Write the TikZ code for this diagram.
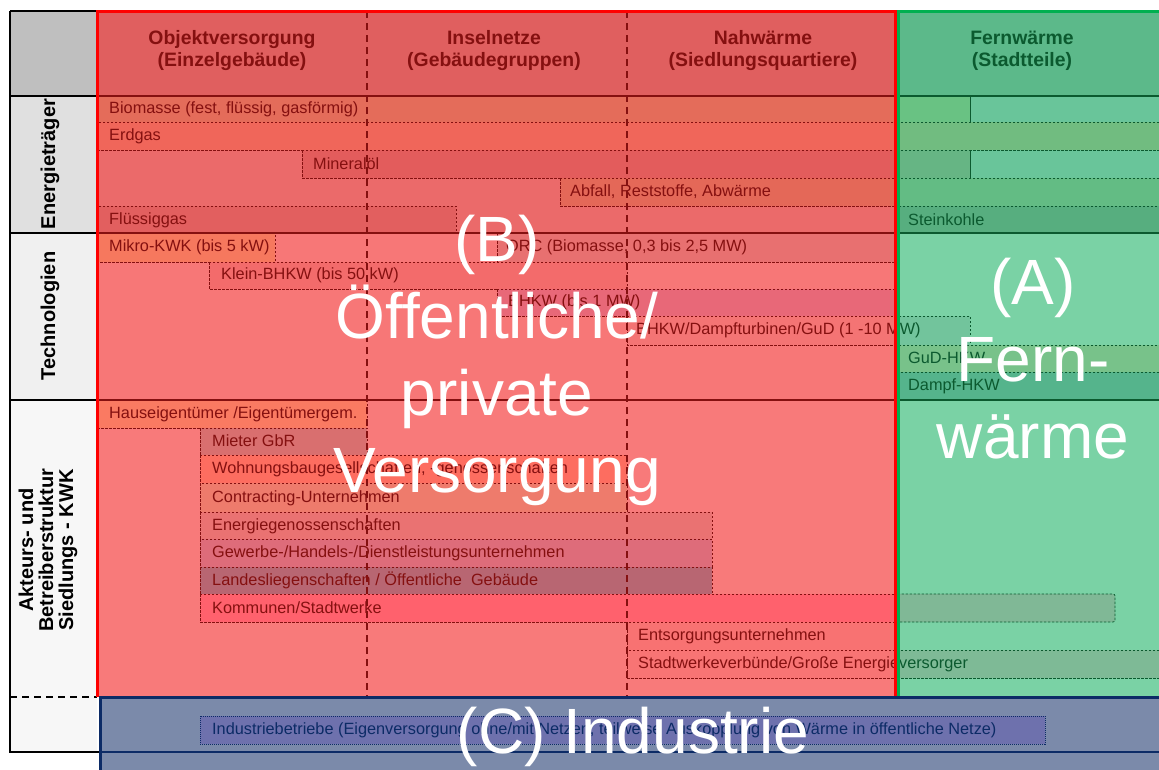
\documentclass[tikz,border=0pt]{standalone}
\usepackage{fontspec}
\setmainfont{Liberation Sans}
\definecolor{kopfrot}{HTML}{E05F5F}
\definecolor{bandrotA}{HTML}{EB6A6A}
\definecolor{bandrotB}{HTML}{F77777}
\definecolor{bandrotC}{HTML}{F87A7A}
\definecolor{kopfgruen}{HTML}{5CB98A}
\definecolor{bandgruenA}{HTML}{69C59A}
\definecolor{bandgruenB}{HTML}{7AD2A5}
\definecolor{dunkelrot}{HTML}{851010}
\definecolor{dunkelgruen}{HTML}{0B5A2F}
\definecolor{rahmengruen}{HTML}{00B050}
\definecolor{navy}{HTML}{0C2B66}
\definecolor{blaugrau}{HTML}{7B8AAA}
\definecolor{industrie}{HTML}{6E71AD}
\tikzset{
	balken/.style={draw=dunkelrot,dash pattern=on 2.5pt off 1.5pt,line width=0.7pt},
	balkengr/.style={draw=dunkelgruen,dash pattern=on 2.5pt off 1.5pt,line width=0.7pt},
	eintrag/.style={anchor=west,inner sep=0pt,text=dunkelrot,font=\fontsize{16.3}{18}\selectfont},
	eintraggr/.style={eintrag,text=dunkelgruen},
	kopf/.style={align=center,inner sep=0pt,font=\bfseries\fontsize{19.4}{22}\selectfont},
	seite/.style={rotate=90,align=center,inner sep=0pt,font=\bfseries\fontsize{20}{20}\selectfont},
	gross/.style={align=center,inner sep=0pt,text=white,font=\fontsize{64}{77}\selectfont}
}
\begin{document}
\begin{tikzpicture}[x=1pt,y=-1pt]
	\useasboundingbox (0,0) rectangle (1159,769);
	\fill[white] (0,0) rectangle (1159,769);
	\fill[black!25] (10,11) rectangle (97,96);
	\fill[black!12] (10,96) rectangle (97,233);
	\fill[black!6] (10,233) rectangle (97,400);
	\fill[black!3] (10,400) rectangle (97,752);
	\draw[line width=2pt] (10,11) -- (97,11) (10,11) -- (10,752) -- (99,752) (10,96) -- (97,96) (10,233) -- (97,233) (10,400) -- (97,400);
	\draw[line width=1.5pt,dash pattern=on 7pt off 5pt] (10,697) -- (97,697);
	\node[seite] (seiteA) at (50,164) {Energieträger};
	\node[seite] (seiteB) at (50,316) {Technologien};
	\node[seite] (seiteC) at (48,550) {Akteurs- und\\Betreiberstruktur\\Siedlungs - KWK};
	\fill[kopfrot] (97,11) rectangle (895,96);
	\fill[bandrotA] (97,96) rectangle (895,233);
	\fill[bandrotB] (97,233) rectangle (895,400);
	\fill[bandrotC] (97,400) rectangle (895,697);
	\fill[kopfgruen] (897,11) rectangle (1162,96);
	\fill[bandgruenA] (897,96) rectangle (1162,233);
	\fill[bandgruenB] (897,233) rectangle (1162,697);
	\filldraw[balken,fill={rgb,255:red,228;green,108;blue,90}] (97,96) rectangle (895,122);
	\filldraw[balkengr,fill={rgb,255:red,105;green,194;blue,131}] (897,96) rectangle (970,122);
	\draw[balkengr] (970,96) -- (970,122) -- (1162,122);
	\filldraw[balken,fill={rgb,255:red,240;green,102;blue,90}] (97,122) rectangle (895,150);
	\filldraw[balkengr,fill={rgb,255:red,113;green,188;blue,128}] (897,122) rectangle (1162,150);
	\filldraw[balken,fill={rgb,255:red,227;green,92;blue,92}] (302,150) rectangle (895,178);
	\filldraw[balkengr,fill={rgb,255:red,102;green,181;blue,132}] (897,150) rectangle (970,178);
	\draw[balkengr] (970,150) -- (970,178) -- (1162,178);
	\filldraw[balken,fill={rgb,255:red,228;green,104;blue,88}] (560,178) rectangle (895,206);
	\filldraw[balkengr,fill={rgb,255:red,99;green,188;blue,132}] (897,178) rectangle (1162,206);
	\filldraw[balken,fill={rgb,255:red,226;green,95;blue,95}] (97,206) rectangle (456,233);
	\filldraw[balkengr,fill={rgb,255:red,87;green,174;blue,127}] (897,206) rectangle (1162,233);
	\node[eintrag] (bio) at (109,109) {Biomasse (fest, flüssig, gasförmig)};
	\node[eintrag] (erdgas) at (109,136) {Erdgas};
	\node[eintrag] (oel) at (313,164) {Mineralöl};
	\node[eintrag] (abfall) at (570,192) {Abfall, Reststoffe, Abwärme};
	\node[eintrag] (fluessig) at (109,220) {Flüssiggas};
	\node[eintraggr] (kohle) at (908,220) {Steinkohle};
	\filldraw[balken,fill={rgb,255:red,246;green,120;blue,94}] (97,233) rectangle (275,262);
	\filldraw[balken,fill={rgb,255:red,232;green,112;blue,112}] (497,233) rectangle (895,262);
	\filldraw[balken,fill={rgb,255:red,243;green,107;blue,107}] (209,262) rectangle (627,289);
	\filldraw[balken,fill={rgb,255:red,232;green,104;blue,120}] (497,289) rectangle (895,316);
	\filldraw[balken,fill={rgb,255:red,244;green,116;blue,116}] (627,316) rectangle (895,345);
	\filldraw[balkengr,fill={rgb,255:red,114;green,196;blue,156}] (897,316) rectangle (970,345);
	\filldraw[balkengr,fill={rgb,255:red,120;green,194;blue,138}] (897,345) rectangle (1162,372);
	\filldraw[balkengr,fill={rgb,255:red,85;green,180;blue,140}] (897,372) rectangle (1162,400);
	\node[eintrag] (mikro) at (109,247) {Mikro-KWK (bis 5 kW)};
	\node[eintrag] (orc) at (506,247) {ORC (Biomasse, 0,3 bis 2,5 MW)};
	\node[eintrag] (klein) at (221,275) {Klein-BHKW (bis 50 kW)};
	\node[eintrag] (bhkw) at (508,302) {BHKW (bis 1 MW)};
	\begin{scope}
		\clip (600,300) rectangle (896,360);
		\node[eintrag] (dampfR) at (636,330) {BHKW/Dampfturbinen/GuD (1 -10 MW)};
	\end{scope}
	\begin{scope}
		\clip (896,300) rectangle (1000,360);
		\node[eintraggr] (dampfG) at (636,330) {BHKW/Dampfturbinen/GuD (1 -10 MW)};
	\end{scope}
	\node[eintraggr] (gud) at (908,358) {GuD-HKW};
	\node[eintraggr] (dhkw) at (908,386) {Dampf-HKW};
	\filldraw[balken,fill={rgb,255:red,250;green,122;blue,98}] (97,400) rectangle (367,428);
	\filldraw[balken,fill={rgb,255:red,217;green,111;blue,111}] (200,428) rectangle (367,455);
	\filldraw[balken,fill={rgb,255:red,253;green,109;blue,96}] (200,455) rectangle (627,483);
	\filldraw[balken,fill={rgb,255:red,238;green,123;blue,108}] (200,483) rectangle (627,512);
	\filldraw[balken,fill={rgb,255:red,234;green,114;blue,114}] (200,512) rectangle (712,539);
	\filldraw[balken,fill={rgb,255:red,222;green,108;blue,122}] (200,539) rectangle (712,567);
	\filldraw[balken,fill={rgb,255:red,184;green,102;blue,114}] (200,567) rectangle (712,594);
	\filldraw[balken,fill={rgb,255:red,255;green,97;blue,109}] (200,594) rectangle (895,622);
	\filldraw[balkengr,fill={rgb,255:red,128;green,184;blue,150},rounded corners=2pt] (897,594) rectangle (1115,622);
	\filldraw[balken,fill={rgb,255:red,248;green,114;blue,114}] (627,622) rectangle (895,650);
	\filldraw[balken,fill={rgb,255:red,248;green,116;blue,116}] (627,650) rectangle (895,678);
	\filldraw[balkengr,fill={rgb,255:red,126;green,186;blue,150}] (897,650) rectangle (1162,678);
	\node[eintrag] (haus) at (109,414) {Hauseigentümer /Eigentümergem.};
	\node[eintrag] (mieter) at (212,441) {Mieter GbR};
	\node[eintrag] (wohnbau) at (212,469) {Wohnungsbaugesellschaften, -genossenschaften};
	\node[eintrag] (contr) at (212,498) {Contracting-Unternehmen};
	\node[eintrag] (egen) at (212,526) {Energiegenossenschaften};
	\node[eintrag] (gewerbe) at (212,553) {Gewerbe-/Handels-/Dienstleistungsunternehmen};
	\node[eintrag] (landes) at (212,580) {Landesliegenschaften / Öffentliche\ \ Gebäude};
	\node[eintrag] (kommunen) at (212,608) {Kommunen/Stadtwerke};
	\node[eintrag] (entsorg) at (638,636) {Entsorgungsunternehmen};
	\begin{scope}
		\clip (600,650) rectangle (896,680);
		\node[eintrag] (verbundR) at (638,664) {Stadtwerkeverbünde/Große Energieversorger};
	\end{scope}
	\begin{scope}
		\clip (896,650) rectangle (1100,680);
		\node[eintraggr] (verbundG) at (638,664) {Stadtwerkeverbünde/Große Energieversorger};
	\end{scope}
	\draw[dunkelrot,line width=2pt] (97,96) -- (895,96) (97,233) -- (895,233) (97,400) -- (895,400);
	\draw[dunkelgruen,line width=2pt] (897,96) -- (1162,96) (897,233) -- (1162,233) (897,400) -- (1162,400);
	\draw[dunkelrot,line width=1.8pt,dash pattern=on 7pt off 5pt] (367,11) -- (367,697) (627,11) -- (627,697);
	\node[kopf,text=dunkelrot] (objekt) at (232,51) {Objektversorgung\\(Einzelgebäude)};
	\node[kopf,text=dunkelrot] (insel) at (494,51) {Inselnetze\\(Gebäudegruppen)};
	\node[kopf,text=dunkelrot] (nah) at (763,51) {Nahwärme\\(Siedlungsquartiere)};
	\node[kopf,text=dunkelgruen] (fern) at (1022,51) {Fernwärme\\(Stadtteile)};
	\draw[red,line width=3pt] (97,697) -- (97,11) -- (895,11) -- (895,697);
	\draw[rahmengruen,line width=3pt] (1162,11) -- (898,11) -- (898,697);
	\filldraw[fill=blaugrau,draw=navy,line width=3pt] (100,697) rectangle (1165,775);
	\draw[navy,line width=2pt] (100,752) -- (1162,752);
	\filldraw[fill=industrie,draw=navy,line width=0.7pt,dash pattern=on 1pt off 1pt] (200,716) rectangle (1045,744);
	\node[eintrag,text=navy] (industrie) at (212,730) {Industriebetriebe (Eigenversorgung ohne/mit Netzen, teilweise Auskopplung von Wärme in öffentliche Netze)};
	\node[gross] (versorgung) at (497,360) {(B)\\Öffentliche/\\private\\Versorgung};
	\node[gross] (fernwaerme) at (1033,359) {(A)\\Fern-\\wärme};
	\node[gross] (industriegross) at (633,737) {(C) Industrie};
\end{tikzpicture}
\end{document}
